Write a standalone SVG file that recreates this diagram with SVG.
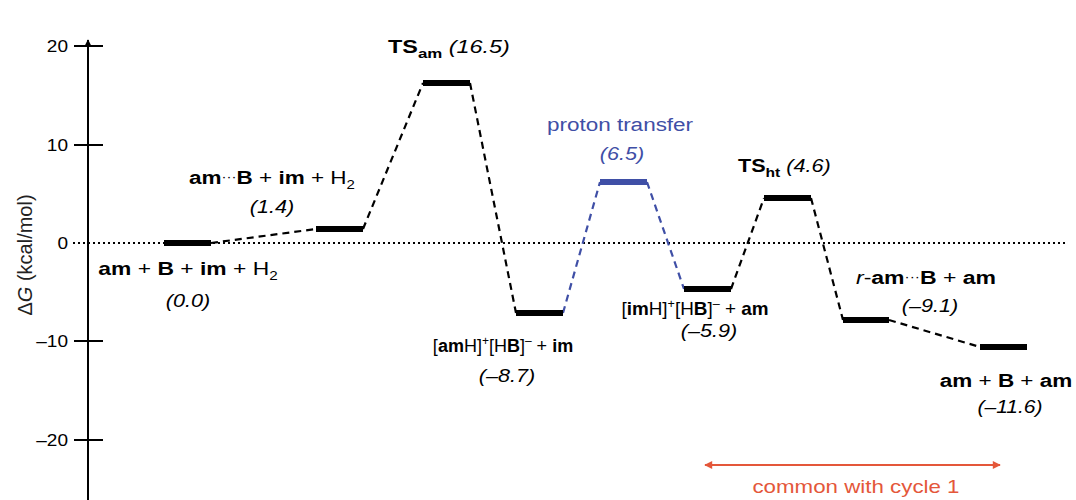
<svg xmlns="http://www.w3.org/2000/svg" width="1076" height="500" viewBox="0 0 1076 500">
<defs>
<style>
text{font-family:"Liberation Sans",Arial,Helvetica,sans-serif;font-size:18px;fill:#000}
.b{font-weight:bold}
.i{font-style:italic}
.sm{font-size:12px}
.lvl{stroke:#000;stroke-width:6;fill:none}
.lvl.blue{stroke:#3f4fa6}
.con{fill:none;stroke:#000;stroke-width:2.2;stroke-dasharray:7 5}
.con.blue{stroke:#3f4fa6}
.axis{stroke:#000;stroke-width:2;fill:none}
.tickl{font-size:17px;text-anchor:end}
.zero{stroke:#000;stroke-width:2;stroke-dasharray:2 3;fill:none}
.bt{fill:#3f4fa6}
.red{stroke:#e4573a;stroke-width:2;fill:none}
.rt{fill:#e4573a}
.mid{text-anchor:middle}
</style>
<marker id="axh" viewBox="0 0 10 10" refX="9" refY="5" markerWidth="8" markerHeight="8" markerUnits="userSpaceOnUse" orient="auto">
<path d="M0,0 L10,5 L0,10 Z" fill="#000"/>
</marker>
<marker id="rh" viewBox="0 0 10 10" refX="9" refY="5" markerWidth="11" markerHeight="8" markerUnits="userSpaceOnUse" orient="auto-start-reverse">
<path d="M0,0 L10,5 L0,10 Z" fill="#e4573a"/>
</marker>
</defs>
<rect width="1076" height="500" fill="#fff"/>

<g id="axis">
<line class="axis" x1="88" y1="500" x2="88" y2="40" marker-end="url(#axh)"/>
<line class="axis" x1="74" y1="46" x2="103" y2="46"/>
<line class="axis" x1="74" y1="145" x2="103" y2="145"/>
<line class="axis" x1="74" y1="341" x2="103" y2="341"/>
<line class="axis" x1="74" y1="440" x2="103" y2="440"/>
<text class="tickl" transform="translate(68,52) scale(1.12,1)">20</text>
<text class="tickl" transform="translate(68,151) scale(1.12,1)">10</text>
<text class="tickl" transform="translate(68,249) scale(1.12,1)">0</text>
<text class="tickl" transform="translate(68,347) scale(1.12,1)">–10</text>
<text class="tickl" transform="translate(68,446) scale(1.12,1)">–20</text>
<text class="mid" style="font-size:20px;fill:#222" transform="translate(32,255) rotate(-90)">Δ<tspan class="i">G</tspan> (kcal/mol)</text>
<line class="zero" x1="73" y1="243" x2="1066" y2="243"/>
</g>

<g id="connectors">
<path class="con" d="M211,243 L316,229"/>
<path class="con" d="M363,229 L423,83"/>
<path class="con" d="M470,83 L516,313"/>
<path class="con blue" d="M563,313 L600,182"/>
<path class="con blue" d="M647,182 L684,289"/>
<path class="con" d="M731,289 L764,198"/>
<path class="con" d="M811,198 L843,320"/>
<path class="con" d="M889,320 L980,347"/>
</g>

<g id="n0">
<line class="lvl" x1="164" y1="243" x2="211" y2="243"/>
<text class="mid" transform="translate(188,275) scale(1.27,1)"><tspan class="b">am</tspan> + <tspan class="b">B</tspan> + <tspan class="b">im</tspan> + H<tspan class="sm" dy="5">2</tspan></text>
<text class="mid i" transform="translate(188,307) scale(1.2,1)">(0.0)</text>
</g>

<g id="n1">
<line class="lvl" x1="316" y1="229" x2="363" y2="229"/>
<text class="mid" transform="translate(272,184) scale(1.25,1)"><tspan class="b">am</tspan><tspan class="sm" dy="-3">···</tspan><tspan class="b" dy="3">B</tspan> + <tspan class="b">im</tspan> + H<tspan class="sm" dy="5">2</tspan></text>
<text class="mid i" transform="translate(272,213) scale(1.2,1)">(1.4)</text>
</g>

<g id="n2">
<line class="lvl" x1="423" y1="83" x2="470" y2="83"/>
<text transform="translate(388,53) scale(1.3,1)"><tspan class="b">TS</tspan><tspan class="b" style="font-size:13px" dy="5">am</tspan><tspan dy="-5"> </tspan><tspan class="i">(16.5)</tspan></text>
</g>

<g id="n3">
<line class="lvl" x1="516" y1="313" x2="563" y2="313"/>
<text class="mid" transform="translate(503,352) scale(1.0,1)">[<tspan class="b">am</tspan>H]<tspan class="sm" dy="-7">+</tspan><tspan dy="7">[H</tspan><tspan class="b">B</tspan>]<tspan class="sm" dy="-7">–</tspan><tspan dy="7"> + </tspan><tspan class="b">im</tspan></text>
<text class="mid i" transform="translate(507,382) scale(1.2,1)">(–8.7)</text>
</g>

<g id="n4">
<line class="lvl blue" x1="600" y1="182" x2="647" y2="182"/>
<text class="mid bt" transform="translate(620,131) scale(1.25,1)">proton transfer</text>
<text class="mid i bt" transform="translate(622,160) scale(1.2,1)">(6.5)</text>
</g>

<g id="n5">
<line class="lvl" x1="684" y1="289" x2="731" y2="289"/>
<text class="mid" transform="translate(695,315) scale(1.05,1)">[<tspan class="b">im</tspan>H]<tspan class="sm" dy="-7">+</tspan><tspan dy="7">[H</tspan><tspan class="b">B</tspan>]<tspan class="sm" dy="-7">–</tspan><tspan dy="7"> + </tspan><tspan class="b">am</tspan></text>
<text class="mid i" transform="translate(709,337) scale(1.2,1)">(–5.9)</text>
</g>

<g id="n6">
<line class="lvl" x1="764" y1="198" x2="811" y2="198"/>
<text transform="translate(738,172) scale(1.2,1)"><tspan class="b">TS</tspan><tspan class="b" style="font-size:13px" dy="5">ht</tspan><tspan dy="-5"> </tspan><tspan class="i">(4.6)</tspan></text>
</g>

<g id="n7">
<line class="lvl" x1="843" y1="320" x2="889" y2="320"/>
<text class="mid" transform="translate(926,284) scale(1.28,1)"><tspan class="i">r</tspan>-<tspan class="b">am</tspan><tspan class="sm" dy="-3">···</tspan><tspan class="b" dy="3">B</tspan> + <tspan class="b">am</tspan></text>
<text class="mid i" transform="translate(930,312) scale(1.2,1)">(–9.1)</text>
</g>

<g id="n8">
<line class="lvl" x1="980" y1="347" x2="1027" y2="347"/>
<text class="mid" transform="translate(1006,387) scale(1.25,1)"><tspan class="b">am</tspan> + <tspan class="b">B</tspan> + <tspan class="b">am</tspan></text>
<text class="mid i" transform="translate(1010,413) scale(1.17,1)">(–11.6)</text>
</g>

<g id="common">
<line class="red" x1="705" y1="465" x2="1000" y2="465" marker-start="url(#rh)" marker-end="url(#rh)"/>
<text class="mid rt" transform="translate(856,493) scale(1.24,1)">common with cycle 1</text>
</g>
</svg>
